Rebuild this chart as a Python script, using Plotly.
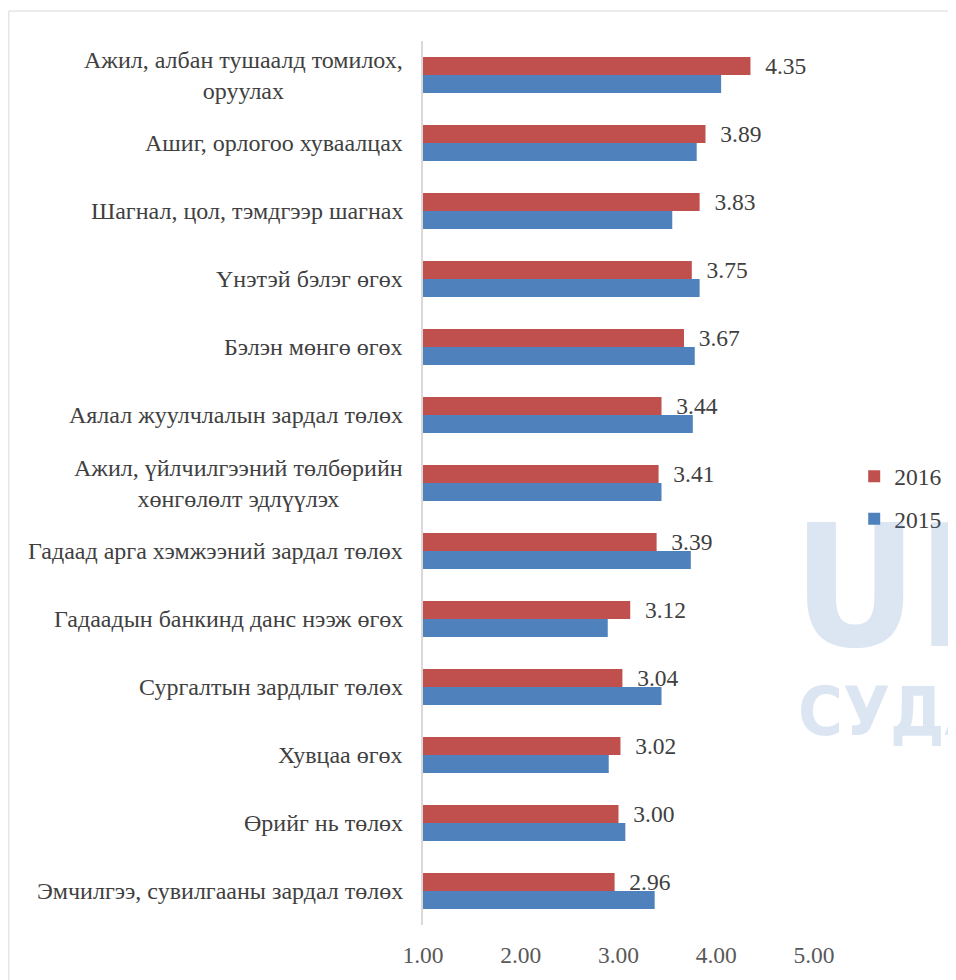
import plotly.graph_objects as go

# ангилал (дээрээс доош)
categories = [
    "Ажил, албан тушаалд томилох,<br>оруулах",
    "Ашиг, орлогоо хуваалцах",
    "Шагнал, цол, тэмдгээр шагнах",
    "Үнэтэй бэлэг өгөх",
    "Бэлэн мөнгө өгөх",
    "Аялал жуулчлалын зардал төлөх",
    "Ажил, үйлчилгээний төлбөрийн<br>хөнгөлөлт эдлүүлэх",
    "Гадаад арга хэмжээний зардал төлөх",
    "Гадаадын банкинд данс нээж өгөх",
    "Сургалтын зардлыг төлөх",
    "Хувцаа өгөх",
    "Өрийг нь төлөх",
    "Эмчилгээ, сувилгааны зардал төлөх",
]
values_2016 = [4.35, 3.89, 3.83, 3.75, 3.67, 3.44, 3.41, 3.39, 3.12, 3.04, 3.02, 3.00, 2.96]
values_2015 = [4.05, 3.80, 3.55, 3.83, 3.78, 3.76, 3.44, 3.74, 2.89, 3.44, 2.90, 3.07, 3.37]
x_ticks = [1, 2, 3, 4, 5]

SERIF = "Liberation Serif, Times New Roman, serif"
NARROW = "Liberation Sans Narrow, DejaVu Sans Condensed, Roboto, sans-serif"
RED = "#c0504d"
BLUE = "#4f81bd"
WM = "rgba(79,129,189,0.2)"

fig = go.Figure()

fig.add_trace(go.Bar(
    y=categories, x=values_2016,
    orientation="h",
    name="2016",
    legendgroup="a",
    marker=dict(color=RED, line=dict(width=0)),
    texttemplate="\u00a0\u00a0%{x:.2f}",
    textposition="outside",
    constraintext="none",
    textfont=dict(family=SERIF, size=23.5, color="#404040"),
    cliponaxis=False,
))
fig.add_trace(go.Bar(
    y=categories, x=values_2015,
    orientation="h",
    name="2015",
    legendgroup="b",
    marker=dict(color=BLUE, line=dict(width=0)),
))

# нэрс - төвд тэгшилсэн олон мөр
for c in categories:
    fig.add_annotation(
        x=0, xref="paper", y=c, yref="y",
        text=c, showarrow=False,
        xanchor="right", align="center", xshift=-18,
        font=dict(family=SERIF, size=24, color="#404040"),
    )

# усан тэмдэг (баруун захад тасарсан)
fig.add_annotation(
    x=0.69, xref="paper", y=0.382, yref="paper",
    text="<b>UIH</b>", showarrow=False, xanchor="left", yanchor="middle",
    font=dict(family=NARROW, size=170, color=WM),
)
fig.add_annotation(
    x=0.70, xref="paper", y=0.242, yref="paper",
    text="<b>СУДАЛ</b>", showarrow=False, xanchor="left", yanchor="middle",
    font=dict(family=NARROW, size=68, color=WM),
)

# хүрээ
fig.add_shape(type="line", xref="paper", yref="paper", x0=-0.777, x1=1.1, y0=1.0339, y1=1.0339,
              line=dict(color="#d9d9d9", width=1))
fig.add_shape(type="line", xref="paper", yref="paper", x0=-0.777, x1=-0.777, y0=-0.07, y1=1.0339,
              line=dict(color="#d9d9d9", width=1))

fig.update_layout(
    width=948, height=972,
    paper_bgcolor="white",
    plot_bgcolor="white",
    barmode="group",
    bargap=0.47,
    bargroupgap=0,
    margin=dict(l=415, r=0, t=33, b=55, autoexpand=False),
    font=dict(family=SERIF, color="#404040"),
    showlegend=True,
    legend=dict(
        x=0.809, y=0.483, xanchor="left", yanchor="middle",
        font=dict(family=SERIF, size=23.5, color="#404040"),
        traceorder="grouped", tracegroupgap=9,
        itemwidth=30,
        bgcolor="rgba(0,0,0,0)",
    ),
    xaxis=dict(
        domain=[0, 391 / 533],
        range=[1, 5], tickvals=x_ticks, ticktext=[f"{t:.2f}" for t in x_ticks],
        showgrid=False, zeroline=False, showline=False,
        tickfont=dict(family=SERIF, size=23.5, color="#595959"),
        ticks="", ticklabelstandoff=13,
    ),
    yaxis=dict(
        autorange="reversed", showticklabels=False,
        showgrid=False, zeroline=False,
        showline=True, linecolor="#d9d9d9", linewidth=1.5,
        ticks="",
    ),
)

fig.write_html("out.html")
